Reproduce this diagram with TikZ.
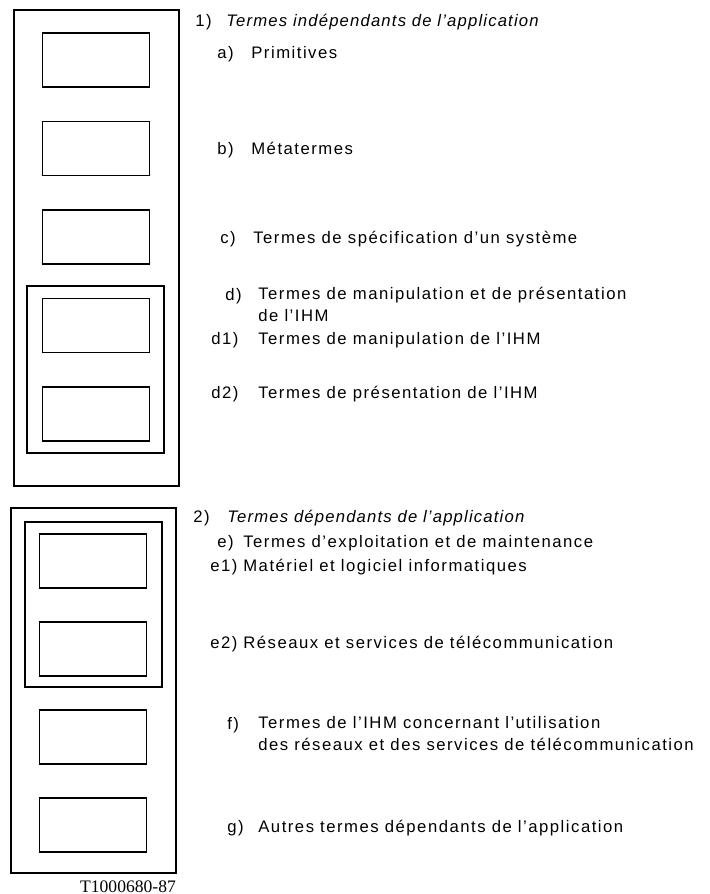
\documentclass[tikz,border=0pt]{standalone}
\usepackage{fontspec}
\setmainfont{Liberation Sans}[LetterSpace=9]
\newfontfamily\headfont{Liberation Sans}[LetterSpace=7, Ligatures=TeX]
\newfontfamily\refnofont{Liberation Serif}

\begin{document}
\begin{tikzpicture}[x=0.02cm, y=-0.02cm,
        termbox/.style={rectangle, draw=black, line width=0.9pt, minimum width=2.14cm, minimum height=1.08cm},
        frame/.style={draw=black, line width=0.9pt},
        num/.style={anchor=base west, inner sep=0pt, font=\fontsize{9.5}{12}\selectfont},
        term/.style={anchor=base west, inner sep=0pt, align=left, font=\fontsize{9.5}{12}\selectfont},
        head/.style={anchor=base west, inner sep=0pt, font=\headfont\fontsize{9.5}{12}\selectfont\itshape},
        node distance=1.77cm
    ]
        \useasboundingbox (0,0) rectangle (710,894);

        % 1) independent terms
        \draw [frame] (14,10) rectangle (179,486);
        \draw [frame] (27,286) rectangle (164,453);
        \node (prim) [termbox] at (96,60) {};
        \node (meta) [termbox, below of=prim] {};
        \node (spec) [termbox, below of=meta] {};
        \node (manip) [termbox, below of=spec] {};
        \node (pres) [termbox, below of=manip] {};

        \node (n1) [num] at (195,26) {1)};
        \node (t1) [head] at (226,26) {Termes indépendants de l'application};
        \node (na) [num] at (217,58) {a)};
        \node (ta) [term] at (251,58) {Primitives};
        \node (nb) [num] at (217,154) {b)};
        \node (tb) [term] at (251,154) {Métatermes};
        \node (nc) [num] at (220,243) {c)};
        \node (tc) [term] at (253,243) {Termes de spécification d'un système};
        \node (nd) [num] at (225,300) {d)};
        \node (td) [term] at (258,321) {Termes de manipulation et de présentation\\de l'IHM};
        \node (nd1) [num] at (211,344) {d1)};
        \node (td1) [term] at (258,344) {Termes de manipulation de l'IHM};
        \node (nd2) [num] at (211,398) {d2)};
        \node (td2) [term] at (258,398) {Termes de présentation de l'IHM};

        % 2) dependent terms
        \draw [frame] (11,508) rectangle (176,873);
        \draw [frame] (25,522) rectangle (162,687);
        \node (mat) [termbox, node distance=1.76cm] at (93,561) {};
        \node (res) [termbox, node distance=1.76cm, below of=mat] {};
        \node (ihm) [termbox, node distance=1.76cm, below of=res] {};
        \node (autre) [termbox, node distance=1.76cm, below of=ihm] {};

        \node (n2) [num] at (193,522) {2)};
        \node (t2) [head] at (227,522) {Termes dépendants de l'application};
        \node (ne) [num] at (217,547) {e)};
        \node (te) [term] at (243,547) {Termes d'exploitation et de maintenance};
        \node (ne1) [num] at (210,571) {e1)};
        \node (te1) [term] at (243,571) {Matériel et logiciel informatiques};
        \node (ne2) [num] at (210,648) {e2)};
        \node (te2) [term] at (243,648) {Réseaux et services de télécommunication};
        \node (nf) [num] at (227,729) {f)};
        \node (tf) [term] at (258,750) {Termes de l'IHM concernant l'utilisation\\des réseaux et des services de télécommunication};
        \node (ng) [num] at (227,832) {g)};
        \node (tg) [term] at (258,832) {Autres termes dépendants de l'application};

        \node (refno) [anchor=base, inner sep=0pt, font=\refnofont\fontsize{10}{12}\selectfont] at (128,892) {T1000680-87};
    \end{tikzpicture}
\end{document}
